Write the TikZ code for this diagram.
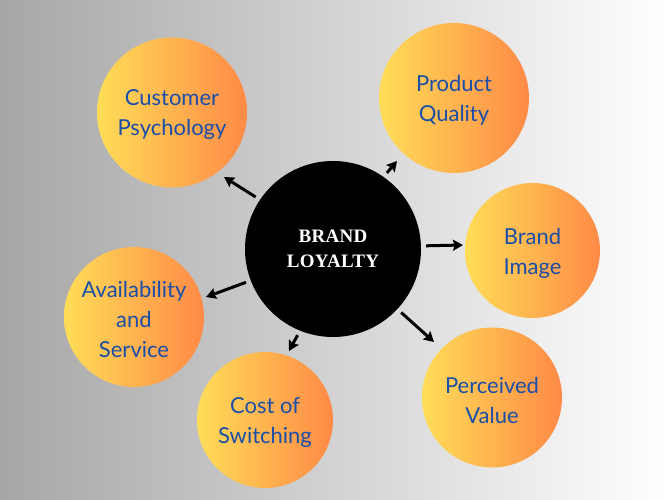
\documentclass[tikz,border=0pt]{standalone}
\usepackage{fontspec}
\setmainfont{Lato}
\newfontfamily\centerfont[LetterSpace=1.5]{Liberation Serif}
\usetikzlibrary{arrows.meta,shadings}
\definecolor{bgleft}{RGB}{166,166,166}
\definecolor{bgright}{RGB}{255,255,255}
\definecolor{ylw}{RGB}{255,221,88}
\definecolor{org}{RGB}{255,138,70}
\definecolor{txtblue}{RGB}{26,78,168}
\tikzset{
  factor/.style={circle, inner sep=0pt, left color=ylw, right color=org, draw=none},
  factortext/.style={text=txtblue, align=center, inner sep=0pt, yshift=-2.5pt,
    font=\fontsize{22}{30}\selectfont},
  hub/.style={circle, fill=black, inner sep=0pt, minimum size=176pt, text=white, align=center,
    font=\centerfont\bfseries\fontsize{19}{25}\selectfont},
  arr/.style={line width=3pt, -{Stealth[length=10pt,width=11pt,inset=1.5pt]}, shorten <=5pt}
}
\begin{document}
\begin{tikzpicture}[x=1pt,y=1pt]
\shade[left color=bgleft, right color=bgright] (0,0) rectangle (666,499);
\useasboundingbox (0,0) rectangle (666,499);
\node[hub] (c) at (333,250) {BRAND\\LOYALTY};
\node[factor, minimum size=150pt, label={[factortext]center:Customer\\Psychology}] (cp) at (172,386.5) {};
\node[factor, minimum size=150pt, label={[factortext]center:Product\\Quality}] (pq) at (454,401) {};
\node[factor, minimum size=135pt, label={[factortext]center:Brand\\Image}] (bi) at (532.5,248.5) {};
\node[factor, minimum size=140pt, label={[factortext]center:Perceived\\Value}] (pv) at (492,101.5) {};
\node[factor, minimum size=136pt, label={[factortext]center:Cost of\\Switching}] (cs) at (265,79) {};
\node[factor, minimum size=140pt, label={[factortext]center:Availability\\and\\Service}] (as) at (134,182) {};
\coordinate (h1) at (224,322);
\coordinate (h2) at (397,338);
\coordinate (h3) at (463,254);
\coordinate (h4) at (434,157);
\coordinate (h5) at (289,148);
\coordinate (h6) at (206,202);
\draw[arr] (c.146.3) -- (h1);
\draw[arr] (c.55.5) -- (h2);
\draw[arr] (c.2.6) -- (h3);
\draw[arr] (c.-43.3) -- (h4);
\draw[arr] (c.-112.1) -- (h5);
\draw[arr] (c.-159) -- (h6);
\end{tikzpicture}
\end{document}
